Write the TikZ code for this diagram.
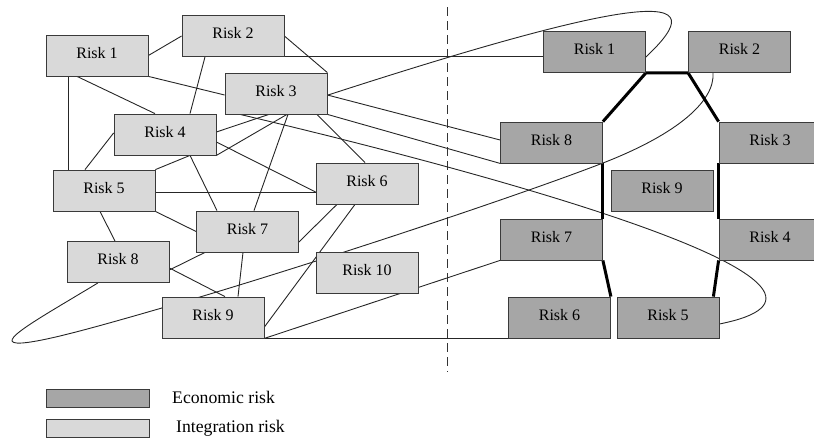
\documentclass[tikz,border=0pt]{standalone}
\usepackage{fontspec}
\setmainfont{Liberation Serif}
\usetikzlibrary{backgrounds}
\definecolor{intfill}{HTML}{D9D9D9}
\definecolor{ecofill}{HTML}{A6A6A6}
\definecolor{edgecol}{HTML}{3A3A3A}
\tikzset{
  riskbox/.style={draw=edgecol, line width=0.8pt, minimum width=102pt, minimum height=41pt,
    inner sep=0pt, text height=5.6pt, text depth=0pt, font=\fontsize{16}{16}\selectfont},
  intbox/.style={riskbox, fill=intfill},
  ecobox/.style={riskbox, fill=ecofill},
  link/.style={draw=black!85, line width=0.9pt},
  thick link/.style={draw=black, line width=3pt},
  legbox/.style={draw=edgecol, line width=0.8pt, minimum width=103pt, minimum height=18pt, inner sep=0pt},
  legtext/.style={anchor=west, inner sep=0pt, font=\fontsize{17.7}{18}\selectfont},
}
\begin{document}
\begin{tikzpicture}[x=1pt,y=-1pt]
\useasboundingbox (0,0) rectangle (814,439);
% integration risks
\node[intbox] (L1) at (97,55.5) {Risk 1};
\node[intbox] (L2) at (233,36) {Risk 2};
\node[intbox] (L3) at (276,93.5) {Risk 3};
\node[intbox] (L4) at (165,134.5) {Risk 4};
\node[intbox] (L5) at (104,190.5) {Risk 5};
\node[intbox] (L6) at (367,183.5) {Risk 6};
\node[intbox] (L7) at (247.5,231.5) {Risk 7};
\node[intbox] (L8) at (118,262) {Risk 8};
\node[intbox] (L9) at (213,317.5) {Risk 9};
\node[intbox] (L10) at (367,272.5) {Risk 10};
% economic risks
\node[ecobox] (R1) at (594.5,52) {Risk 1};
\node[ecobox] (R2) at (739.5,52) {Risk 2};
\node[ecobox] (R8) at (551.5,142.5) {Risk 8};
\node[ecobox] (R3) at (770,142.5) {Risk 3};
\node[ecobox] (R9) at (662,190.5) {Risk 9};
\node[ecobox] (R7) at (551.5,239.5) {Risk 7};
\node[ecobox] (R4) at (770,239.5) {Risk 4};
\node[ecobox] (R6) at (559.5,317.5) {Risk 6};
\node[ecobox] (R5) at (668,317.5) {Risk 5};
% divider
\coordinate (dtop) at (447,7);
\coordinate (dbot) at (447,372);
% legend
\node[legbox, fill=ecofill] (legE) at (97.5,398) {};
\node[legbox, fill=intfill] (legI) at (97.5,428) {};
\node[legtext] (legEt) at (172,397) {Economic risk};
\node[legtext] (legIt) at (176,428) {Integration risk};

\begin{pgfonlayer}{background}
\draw[black!80, line width=0.9pt, dash pattern=on 9pt off 5pt] (dtop) -- (dbot);
% left graph
\draw[link] (L1.east) -- (L2.west);
\draw[link] ([xshift=-28pt]L2.south) -- ([xshift=25pt]L4.north);
\draw[link] (L2.east) -- (L3.north east);
\draw[link] (L2.south east) -- (L2.south east -| R1.west);
\draw[link] (L1.south east) -- ([yshift=-1.5pt]L3.west);
\draw[link] ([yshift=-1.5pt]L3.east) -- ([yshift=2.5pt]R8.west);
\draw[link] (L3.south east) -- (R8.south west);
\draw[link] ([xshift=-20pt]L1.south) -- ([xshift=-10pt]L4.north);
\draw[link] ([xshift=-29pt]L1.south) -- ([xshift=-29pt]L1.south |- L5.north);
\draw[link] ([yshift=1.5pt]L4.west) -- ([xshift=-19pt]L5.north);
\draw[link] ([xshift=25pt]L4.south) -- ([xshift=-30.5pt]L7.north);
\draw[link] ([yshift=-7.5pt]L4.east) -- ([yshift=-8.5pt]L6.west);
\draw[link] ([yshift=-1.5pt]L5.east) -- ([yshift=-1.5pt]L5.east -| L6.west);
\draw[link] (L5.north east) -- ([xshift=25pt]L4.south);
\draw[link] (L4.south east) -- ([xshift=11pt]L3.south);
\draw[link] ([xshift=12pt]L3.south) -- ([xshift=6.5pt]L7.north);
\draw[link] ([xshift=41pt]L3.south) -- ([xshift=-2pt]L6.north);
\draw[link] ([xshift=-4pt]L5.south) -- ([xshift=-3pt]L8.north);
\draw[link] (L5.south east) -- (L7.west);
\draw[link] ([xshift=-30pt]L6.south) -- ([yshift=-10.5pt]L7.east);
\draw[link] ([xshift=-12pt]L6.south) -- ([yshift=-9.5pt]L9.east);
\draw[link] ([xshift=-4.5pt]L7.south) -- ([xshift=25pt]L9.north);
\draw[link] ([xshift=-42.5pt]L7.south) -- ([yshift=-8pt]L8.east);
\draw[link] ([yshift=-6pt]L8.east) -- ([xshift=12pt]L9.north);
\draw[link] (L9.south east) -- (R7.south west);
\draw[link] (L9.south east) -- (R6.south west);
% long curves
\draw[link] ([yshift=2.5pt]L4.east) .. controls (667,-20) and (715,-8) .. ([yshift=-5pt]R1.east);
\draw[link] ([xshift=-36pt]L3.south) .. controls (560,190) and (890,290) .. ([yshift=-6.5pt]R5.east);
\draw[link] ([xshift=-20pt]L8.south) .. controls (40,318) and (-10,345) .. (22,343)
  .. controls (50,341) and (120,320) .. (200,297)
  .. controls (340,255) and (520,195) .. (603,163)
  .. controls (680,133) and (715,100) .. ([xshift=-26.5pt]R2.south);
% economic chain
\draw[thick link, line join=miter] (R8.north east) -- (R1.south east) -- (R2.south west) -- (R3.north west);
\draw[thick link] (R8.south east) -- (R7.north east);
\draw[thick link] (R3.south west) -- (R4.north west);
\draw[thick link] (R7.south east) -- (R6.north east);
\draw[thick link] (R4.south west) -- ([xshift=-6pt]R5.north east);
\end{pgfonlayer}
\end{tikzpicture}
\end{document}
